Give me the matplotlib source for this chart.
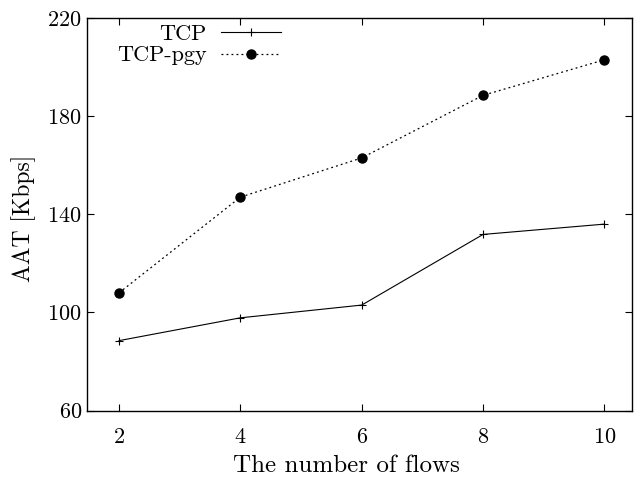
import matplotlib
matplotlib.use("Agg")
import matplotlib.pyplot as plt

flows = [2, 4, 6, 8, 10]
tcp = [88.5, 97.8, 103.0, 131.8, 136.0]
tcp_pgy = [108.0, 147.0, 163.0, 188.5, 203.0]
xticks = [2, 4, 6, 8, 10]
yticks = [60, 100, 140, 180, 220]

plt.rcParams['font.family'] = ['cmr10', 'DejaVu Serif']
plt.rcParams['axes.formatter.use_mathtext'] = True
plt.rcParams['mathtext.fontset'] = 'cm'

fig = plt.figure(figsize=(6.41, 4.83), dpi=100)
ax = fig.add_axes([0.1365, 0.150, 0.850, 0.8126])

ax.plot(flows, tcp, color='black', linestyle='-', linewidth=0.8,
        marker='+', markersize=6, markeredgewidth=0.8, label='TCP')
ax.plot(flows, tcp_pgy, color='black', linestyle=(0, (1.5, 2.5)), linewidth=0.9,
        marker='o', markersize=6.5, label='TCP-pgy')

ax.set_xlim(1.48, 10.46)
ax.set_ylim(60, 220)
ax.set_xticks(xticks)
ax.set_yticks(yticks)
ax.tick_params(direction='in', top=True, right=True, length=5, width=0.8,
               labelsize=16)
ax.tick_params(axis='x', pad=12)
ax.tick_params(axis='y', pad=4)
for s in ax.spines.values():
    s.set_linewidth(1.0)

ax.set_xlabel('The number of flows', fontsize=18)
ax.set_ylabel('AAT [Kbps]', fontsize=17)
ax.xaxis.set_label_coords(0.476, -0.141)
ax.xaxis.label.set_va('center')
ax.yaxis.set_label_coords(-0.1165, 0.49)
ax.yaxis.label.set_va('center')

leg = ax.legend(loc='upper left', frameon=False, markerfirst=False,
                fontsize=16, handlelength=2.7, handletextpad=0.63,
                borderpad=0, borderaxespad=0, labelspacing=0.1,
                bbox_to_anchor=(0.054, 0.985))

fig.savefig('out.png', dpi=100)
